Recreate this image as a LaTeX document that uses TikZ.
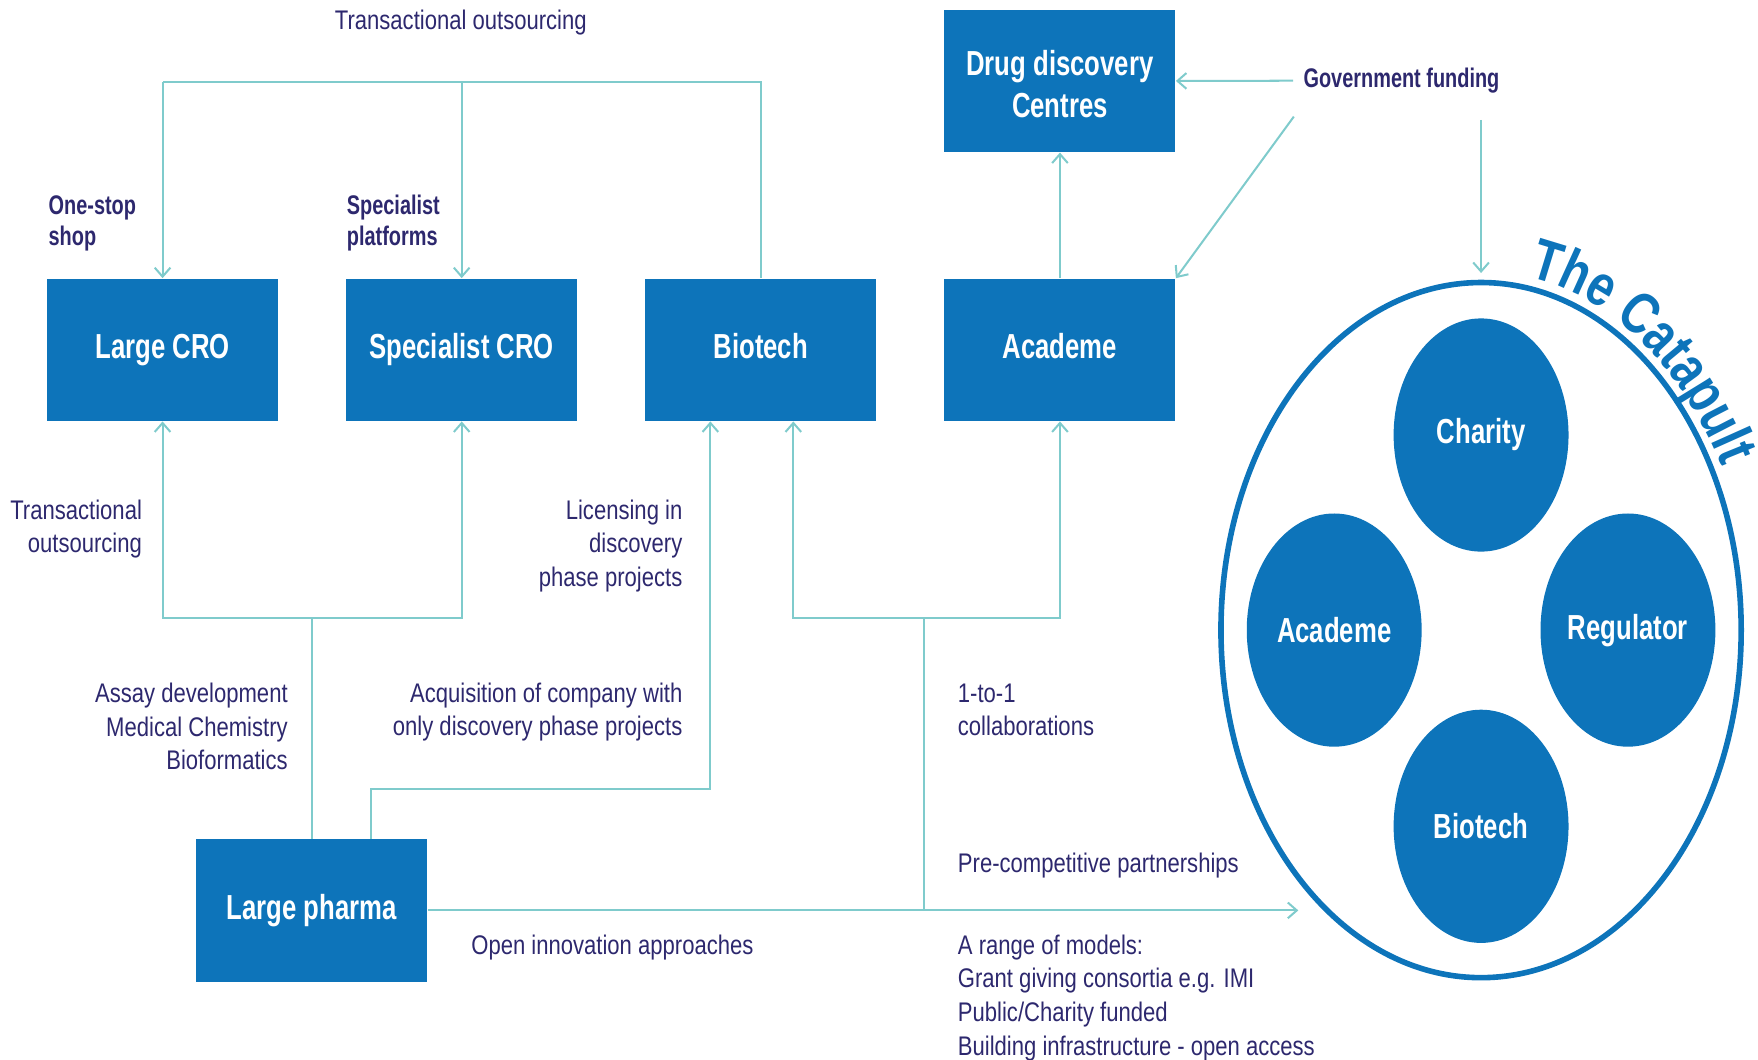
\documentclass[tikz,border=0pt]{standalone}
\usepackage{fontspec}
\setmainfont{Liberation Sans}[FakeStretch=0.82, BoldFeatures={FakeStretch=0.74}]
\newfontfamily\catfont{Liberation Sans}[FakeStretch=0.8]
\usepackage{xcolor}
\usepackage{tikz}
\usetikzlibrary{arrows.meta, positioning, calc, shapes.geometric, decorations.text}

\definecolor{boxblue}{RGB}{13,116,186}
\definecolor{linkteal}{RGB}{127,203,204}
\definecolor{labelnavy}{RGB}{45,40,110}

\begin{document}
\begin{tikzpicture}[x=0.5pt, y=0.5pt,
  box/.style={rectangle, fill=boxblue, text=white, minimum width=103pt, minimum height=63.5pt, inner sep=0pt, align=center, font=\bfseries\fontsize{15.5}{18.5}\selectfont, execute at begin node=\vphantom{Ag}},
  blob/.style={ellipse, fill=boxblue, text=white, minimum width=78pt, minimum height=104pt, inner sep=0pt, font=\bfseries\fontsize{15.5}{18.5}\selectfont},
  lbl/.style={text=labelnavy, inner sep=0pt, font=\fontsize{12}{15}\selectfont},
  hdr/.style={text=labelnavy, inner sep=0pt, font=\bfseries\fontsize{12}{14}\selectfont},
  link/.style={draw=linkteal, line width=0.9pt},
  arr/.style={link, -{Straight Barb[length=4pt, width=7pt]}}]
\useasboundingbox (0,0) rectangle (1568,-945);

% top row
\node[box] (lcro) at (145,-312) {Large CRO};
\node[box, right=30pt of lcro] (scro) {Specialist CRO};
\node[box, right=30pt of scro] (bio) {Biotech};
\node[box, right=30pt of bio] (acad) {Academe};
\node[box, above=56pt of acad] (ddc) {\rule{0pt}{17pt}Drug discovery\\Centres};
\node[box] (pharma) at (278,-812) {Large pharma};

% the catapult
\node[ellipse, draw=boxblue, line width=2.5pt, minimum width=232pt, minimum height=310pt] (cat) at (1321,-562) {};
\node[blob] (cchar) at (1321,-388) {Charity};
\node[blob] (cacad) at (1190,-562) {Academe};
\node[blob] (creg) at (1452,-562) {Regulator};
\node[blob] (cbio) at (1321,-737) {Biotech};
\path[decorate, decoration={text along path, text align=left, text color=boxblue,
  text={|\catfont\bfseries\fontsize{26}{30}\selectfont|The Catapult}}]
  (1321,-562) ++(80:241 and 320) arc[start angle=80, end angle=10, x radius=241, y radius=320];

% labels
\node[lbl] (tolab) at (411,-20) {Transactional outsourcing};
\node[hdr, anchor=west, align=left] (oss) at (43,-199) {One-stop\\shop};
\node[hdr, anchor=west, align=left] (spl) at (309,-199) {Specialist\\platforms};
\node[hdr] (gov) at (1250,-72) {Government funding};
\node[lbl, anchor=east, align=right] (tolab2) at (127,-472) {Transactional\\outsourcing};
\node[lbl, anchor=east, align=right] (lic) at (609,-487) {Licensing in\\discovery\\phase projects};
\node[lbl, anchor=east, align=right] (assay) at (257,-648) {Assay development\\Medical Chemistry\\Bioformatics};
\node[lbl, anchor=east, align=right] (acq) at (609,-635) {Acquisition of company with\\only discovery phase projects};
\node[lbl, anchor=west, align=left] (oto) at (854,-633) {1-to-1\\collaborations};
\node[lbl, anchor=west] (pcp) at (854,-772) {Pre-competitive partnerships};
\node[lbl, anchor=west] (oia) at (420,-845) {Open innovation approaches};
\node[lbl, anchor=west, align=left] (models) at (854,-890) {A range of models:\\Grant giving consortia e.g. IMI\\Public/Charity funded\\Building infrastructure - open access};

% connectors, top
\coordinate (tbar) at (411,-73);
\draw[link] (bio.north) -- (bio.north |- tbar) -- (lcro.north |- tbar);
\draw[arr] (lcro.north |- tbar) -- (lcro.north);
\draw[arr] (scro.north |- tbar) -- (scro.north);
\draw[arr] (acad.north) -- (ddc.south);
\draw[arr] (gov.west) ++(-9,0) -- (ddc.east);
\coordinate (gfa) at (1154,-104);
\coordinate (gfb) at (1321,-107);
\draw[arr] (gfa) -- (acad.north east);
\draw[arr, shorten >=3pt] (gfb) -- (cat.north);

% connectors, bottom
\coordinate (lbar) at (278,-551);
\draw[link] (pharma.north) -- (lbar);
\draw[arr] (lbar) -| (lcro.south);
\draw[arr] (lbar) -| (scro.south);
\draw[arr] ($(pharma.north)+(53,0)$) -- ++(0,44) -| ($(bio.south)+(-45,0)$);
\coordinate (pcend) at (1158,-812);
\draw[arr] (pharma.east) -- (pcend);
\coordinate (rbot) at (824,-812);
\coordinate (rbar) at (824,-551);
\draw[link] (rbot) -- (rbar);
\draw[arr] (rbar) -| ($(bio.south)+(29,0)$);
\draw[arr] (rbar) -| (acad.south);
\end{tikzpicture}
\end{document}
